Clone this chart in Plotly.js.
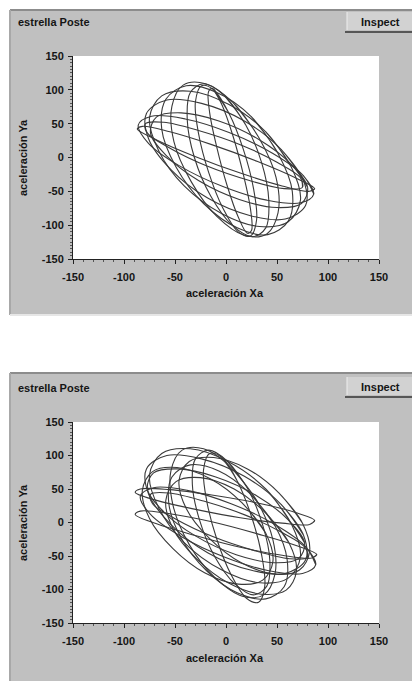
<!DOCTYPE html>
<html>
<head>
<meta charset="utf-8">
<script src="https://cdn.plot.ly/plotly-3.0.1.min.js"></script>
<style>html,body{margin:0;padding:0;background:#fff;}#chart{width:412px;height:681px;}</style>
</head>
<body>
<div id="chart"></div>
<script>
// ---- data (acceleration orbit, loop after loop, 12 points per loop) ----
const panelTitle = "estrella Poste";
const buttonLabel = "Inspect";
const xTitle = "aceleración Xa";
const yTitle = "aceleración Ya";
const tickVals = [-150, -100, -50, 0, 50, 100, 150];
const tickText = ["-150", "-100", "-50", "0", "50", "100", "150"];
const pointsPerLoop = 12;

// upper panel
const p1x = [
  87, 82, 55, 14, -31, -68, -87, -82, -55, -14, 31, 68,
  73, 75, 57, 23, -18, -54, -77, -79, -61, -27, 14, 50,
  76, 86, 73, 40, -3, -46, -76, -86, -73, -40, 3, 46,
  64, 80, 74, 50, 13, -27, -58, -74, -68, -44, -7, 33,
  54, 76, 78, 58, 24, -18, -54, -76, -78, -58, -24, 18,
  39, 64, 73, 61, 33, -4, -41, -66, -75, -63, -35, 2,
  25, 51, 65, 61, 41, 11, -22, -49, -63, -59, -39, -9,
  7, 32, 49, 51, 40, 18, -9, -34, -51, -53, -42, -20,
  -2, 19, 35, 42, 39, 26, 6, -15, -31, -38, -35, -22,
  -12, 3, 17, 27, 30, 24, 12, -3, -17, -27, -30, -24,
  -13, -4, 7, 17, 24, 25, 21, 12, 1, -9, -16, -17
];
const p1y = [
  -46, -50, -42, -23, 2, 26, 42, 46, 38, 19, -6, -30,
  -30, -44, -46, -34, -13, 13, 36, 50, 52, 40, 19, -7,
  -27, -54, -67, -63, -43, -12, 21, 48, 61, 57, 37, 6,
  -10, -44, -68, -74, -62, -34, 2, 36, 60, 66, 54, 26,
  12, -34, -71, -91, -86, -60, -18, 28, 65, 85, 80, 54,
  38, -14, -63, -95, -102, -83, -42, 10, 59, 91, 98, 79,
  60, 6, -50, -94, -114, -104, -68, -14, 42, 86, 106, 96,
  81, 30, -29, -82, -113, -115, -87, -36, 23, 76, 107, 109,
  92, 49, -8, -64, -104, -117, -100, -57, 0, 56, 96, 109,
  100, 65, 12, -46, -92, -116, -110, -75, -22, 36, 82, 106,
  102, 78, 31, -25, -76, -108, -112, -88, -41, 15, 66, 98
];

// lower panel
const p2x = [
  87, 82, 55, 14, -31, -68, -89, -84, -55, -14, 31, 68,
  39, 64, 73, 61, 33, -4, -41, -66, -75, -63, -35, 2,
  23, 48, 60, 57, 39, 11, -19, -44, -56, -53, -35, -7,
  89, 84, 55, 14, -31, -68, -89, -84, -55, -14, 31, 68,
  54, 76, 78, 58, 24, -18, -54, -76, -78, -58, -24, 18,
  5, 30, 46, 48, 37, 16, -11, -36, -52, -54, -43, -22,
  78, 88, 75, 42, -1, -44, -74, -84, -71, -38, 5, 48,
  1, 21, 36, 43, 40, 27, 9, -11, -26, -33, -30, -17,
  61, 77, 71, 47, 10, -30, -61, -77, -71, -47, -10, 30,
  78, 80, 62, 28, -13, -49, -72, -74, -56, -22, 19, 55,
  -4, 11, 25, 35, 38, 32, 20, 5, -9, -19, -22, -16,
  39, 62, 69, 59, 35, 2, -29, -52, -59, -49, -25, 8,
  52, 75, 82, 72, 48, 15, -16, -39, -46, -36, -12, 21,
  16, 39, 46, 36, 12, -21, -52, -75, -82, -72, -48, -15
];
const p2y = [
  3, -3, -1, 7, 20, 33, 45, 50, 49, 41, 29, 15,
  50, -2, -51, -83, -90, -71, -30, 22, 71, 103, 110, 91,
  44, -5, -56, -96, -114, -105, -72, -23, 28, 68, 86, 77,
  -48, -53, -49, -37, -19, -2, 12, 17, 13, 1, -17, -34,
  27, -19, -56, -76, -71, -45, -3, 43, 80, 100, 95, 69,
  82, 33, -26, -77, -108, -110, -82, -33, 26, 77, 108, 110,
  -36, -63, -76, -72, -52, -21, 12, 39, 52, 48, 28, -3,
  92, 51, -4, -57, -95, -108, -92, -51, 4, 57, 95, 108,
  4, -30, -54, -60, -48, -20, 16, 50, 74, 80, 68, 40,
  -38, -52, -54, -42, -21, 5, 28, 42, 44, 32, 11, -15,
  97, 62, 9, -49, -95, -119, -113, -78, -25, 33, 79, 103,
  14, -31, -73, -101, -107, -90, -54, -9, 33, 61, 67, 50,
  44, -1, -43, -71, -77, -60, -24, 21, 63, 91, 97, 80,
  29, -16, -58, -86, -92, -75, -39, 6, 48, 76, 82, 65
];

// split the series into closed loops (gap between loops) for the line trace
function loops(arr) {
  const out = [];
  for (let i = 0; i < arr.length; i += pointsPerLoop) {
    const seg = arr.slice(i, i + pointsPerLoop);
    out.push(...seg, seg[0], seg[1], null);
  }
  return out;
}

// ---- layout helpers (pixel -> paper) ----
const W = 412, H = 681;
const px = v => v / W;
const py = v => 1 - v / H;

const fontFam = "Liberation Sans, Arial, sans-serif";
const tickFont = {family: fontFam, size: 11, color: "#151515", weight: "bold"};
const labelFont = {family: fontFam, size: 11, color: "#151515", weight: "bold"};

function axis(domain, anchor, minorStep, standoff) {
  return {
    domain: domain, anchor: anchor, range: [-150, 150],
    tickmode: "array", tickvals: tickVals, ticktext: tickText,
    ticks: "outside", ticklen: 4, tickwidth: 1, tickcolor: "#222",
    ticklabelstandoff: standoff,
    showline: true, linecolor: "#222", linewidth: 1,
    showgrid: false, zeroline: false, fixedrange: true,
    minor: {ticks: "outside", ticklen: 2, tickwidth: 1, tickcolor: "#555", dtick: minorStep, showgrid: false},
    tickfont: tickFont
  };
}

const traceStyle = {color: "#3a3a3a", width: 1.1, shape: "spline", smoothing: 1};
const data = [
  {x: loops(p1x), y: loops(p1y), type: "scatter", mode: "lines", line: traceStyle, connectgaps: false, xaxis: "x", yaxis: "y", hoverinfo: "skip", showlegend: false},
  {x: loops(p2x), y: loops(p2y), type: "scatter", mode: "lines", line: traceStyle, connectgaps: false, xaxis: "x2", yaxis: "y2", hoverinfo: "skip", showlegend: false}
];

function panelShapes(top, bottom, plotTop, plotBottom, btnTop) {
  return [
    {type: "rect", xref: "paper", yref: "paper", x0: px(10), x1: 1, y0: py(bottom), y1: py(top), fillcolor: "#c0c0c0", line: {width: 0}, layer: "below"},
    {type: "line", xref: "paper", yref: "paper", x0: px(10), x1: 1, y0: py(top), y1: py(top), line: {color: "#8c8c8c", width: 2}, layer: "below"},
    {type: "line", xref: "paper", yref: "paper", x0: px(10), x1: px(10), y0: py(bottom), y1: py(top), line: {color: "#a8a8a8", width: 2}, layer: "below"},
    {type: "rect", xref: "paper", yref: "paper", x0: px(73), x1: px(379), y0: py(plotBottom), y1: py(plotTop), fillcolor: "#ffffff", line: {width: 0}, layer: "below"},
    {type: "rect", xref: "paper", yref: "paper", x0: px(347), x1: 1, y0: py(btnTop + 18), y1: py(btnTop), fillcolor: "#d2d2d2", line: {width: 0}, layer: "below"},
    {type: "line", xref: "paper", yref: "paper", x0: px(347), x1: px(347), y0: py(btnTop + 18), y1: py(btnTop), line: {color: "#eeeeee", width: 1}, layer: "below"},
    {type: "line", xref: "paper", yref: "paper", x0: px(345), x1: 1, y0: py(btnTop + 20), y1: py(btnTop + 20), line: {color: "#333333", width: 1.5}, layer: "below"}
  ];
}

const shapes = [].concat(
  panelShapes(10, 315, 56, 259, 12),
  [{type: "line", xref: "paper", yref: "paper", x0: px(10), x1: 1, y0: py(315), y1: py(315), line: {color: "#e6e6e6", width: 2}, layer: "below"}],
  panelShapes(373, 681, 422, 623, 377)
);

function ann(text, x, y, opts) {
  return Object.assign({text: text, xref: "paper", yref: "paper", x: px(x), y: py(y), showarrow: false,
    xanchor: "center", yanchor: "middle", font: labelFont}, opts || {});
}

const annotations = [
  ann(panelTitle, 16, 22, {xanchor: "left"}),
  ann(buttonLabel, 380, 22),
  ann(xTitle, 225, 293),
  ann(yTitle, 23, 158, {textangle: -90}),
  ann(panelTitle, 16, 388, {xanchor: "left"}),
  ann(buttonLabel, 380, 387),
  ann(xTitle, 225, 658),
  ann(yTitle, 23, 523, {textangle: -90})
];

const layout = {
  width: W, height: H,
  margin: {l: 0, r: 0, t: 0, b: 0, pad: 0},
  paper_bgcolor: "#ffffff",
  plot_bgcolor: "rgba(0,0,0,0)",
  showlegend: false,
  xaxis: axis([px(73), px(379)], "y", 10, 4),
  yaxis: axis([py(259), py(56)], "x", 5, 2),
  xaxis2: axis([px(73), px(379)], "y2", 10, 4),
  yaxis2: axis([py(623), py(422)], "x2", 5, 2),
  shapes: shapes,
  annotations: annotations
};

Plotly.newPlot("chart", data, layout, {staticPlot: true, displayModeBar: false});
</script>
</body>
</html>
